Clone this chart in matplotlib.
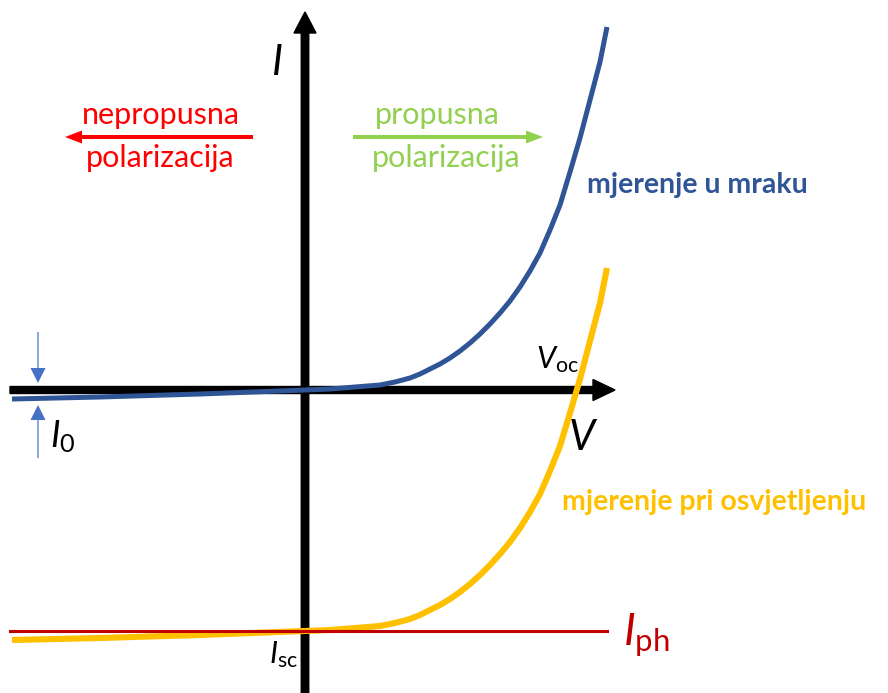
import matplotlib.pyplot as plt

plt.rcParams['font.family'] = ['Lato', 'DejaVu Sans']
plt.rcParams['mathtext.fontset'] = 'custom'
plt.rcParams['mathtext.it'] = 'Lato:italic'
plt.rcParams['mathtext.rm'] = 'Lato'

# dark I-V curve (arbitrary units)
v_dark = [-2.93, -2.05, -1.05, 0.0, 0.25, 0.50, 0.75, 0.90, 1.05, 1.15,
          1.25, 1.35, 1.45, 1.55, 1.65, 1.75, 1.85, 1.95, 2.05, 2.15,
          2.25, 2.35, 2.45, 2.55, 2.65, 2.75, 2.85, 2.95, 3.02]
i_dark = [-0.09, -0.07, -0.04, 0.0, 0.01, 0.03, 0.05, 0.08, 0.12, 0.16,
          0.21, 0.26, 0.32, 0.39, 0.47, 0.56, 0.66, 0.77, 0.89, 1.03,
          1.19, 1.37, 1.60, 1.85, 2.18, 2.52, 2.90, 3.28, 3.63]
# photocurrent: the lit curve is the dark curve shifted down by it
i_ph = 2.41
i_light = [i - i_ph for i in i_dark]
v_ph_line = [-2.95, 3.02]

dark_blue = '#2F5597'
yellow = '#FFC000'
dark_red = '#C00000'
light_blue = '#4472C4'

fig = plt.figure(figsize=(8.88, 6.93), dpi=100)
ax = fig.add_axes([0, 0, 1, 1])
ax.set_xlim(-3.05, 5.83)
ax.set_ylim(-3.03, 3.90)
ax.axis('off')

# axes with arrows
ax.arrow(-2.95, 0, 6.05, 0, width=0.07, head_width=0.21, head_length=0.22,
         length_includes_head=True, color='black', zorder=1)
ax.arrow(0, -3.03, 0, 6.81, width=0.075, head_width=0.22, head_length=0.21,
         length_includes_head=True, color='black', zorder=1)

ax.plot(v_dark, i_light, color=yellow, lw=4.4, solid_capstyle='butt',
        solid_joinstyle='round', zorder=2)
ax.plot(v_dark, i_dark, color=dark_blue, lw=3.6, solid_capstyle='butt',
        solid_joinstyle='round', zorder=3)
ax.plot(v_ph_line, [-i_ph, -i_ph], color=dark_red, lw=2.2, zorder=4)

# I0 marker arrows
ax.arrow(-2.67, 0.58, 0, -0.51, width=0.012, head_width=0.15, head_length=0.15,
         length_includes_head=True, color=light_blue, lw=0)
ax.arrow(-2.67, -0.68, 0, 0.53, width=0.012, head_width=0.15, head_length=0.15,
         length_includes_head=True, color=light_blue, lw=0)

# bias direction arrows
ax.arrow(-0.52, 2.53, -1.88, 0, width=0.04, head_width=0.13, head_length=0.17,
         length_includes_head=True, color='#FF0000', lw=0)
ax.arrow(0.48, 2.53, 1.90, 0, width=0.04, head_width=0.13, head_length=0.17,
         length_includes_head=True, color='#92D050', lw=0)

ax.text(-1.44, 2.66, 'nepropusna', color='#FF0000', fontsize=22,
        ha='center', va='baseline')
ax.text(-1.45, 2.23, 'polarizacija', color='#FF0000', fontsize=22,
        ha='center', va='baseline')
ax.text(1.32, 2.66, 'propusna', color='#92D050', fontsize=22,
        ha='center', va='baseline')
ax.text(1.41, 2.23, 'polarizacija', color='#92D050', fontsize=22,
        ha='center', va='baseline')

ax.text(2.82, 1.97, 'mjerenje u mraku', color=dark_blue, fontsize=20.5,
        fontweight='bold', ha='left', va='baseline')
ax.text(2.57, -1.20, 'mjerenje pri osvjetljenju', color=yellow, fontsize=20.5,
        fontweight='bold', ha='left', va='baseline')

ax.text(-0.27, 3.15, 'I', fontsize=30, style='italic', ha='center', va='baseline')
ax.text(2.77, -0.60, 'V', fontsize=30, style='italic', ha='center', va='baseline')
ax.text(2.31, 0.22, r'$V_{\mathrm{oc}}$', fontsize=22, ha='left', va='baseline')
ax.text(-2.55, -0.57, r'$I_{\mathrm{0}}$', fontsize=26, ha='left', va='baseline')
ax.text(-0.36, -2.73, r'$I_{\mathrm{sc}}$', fontsize=22, ha='left', va='baseline')
ax.text(3.18, -2.55, r'$I_{\mathrm{ph}}$', fontsize=32, color=dark_red,
        ha='left', va='baseline')

fig.savefig('out.png', dpi=100)
